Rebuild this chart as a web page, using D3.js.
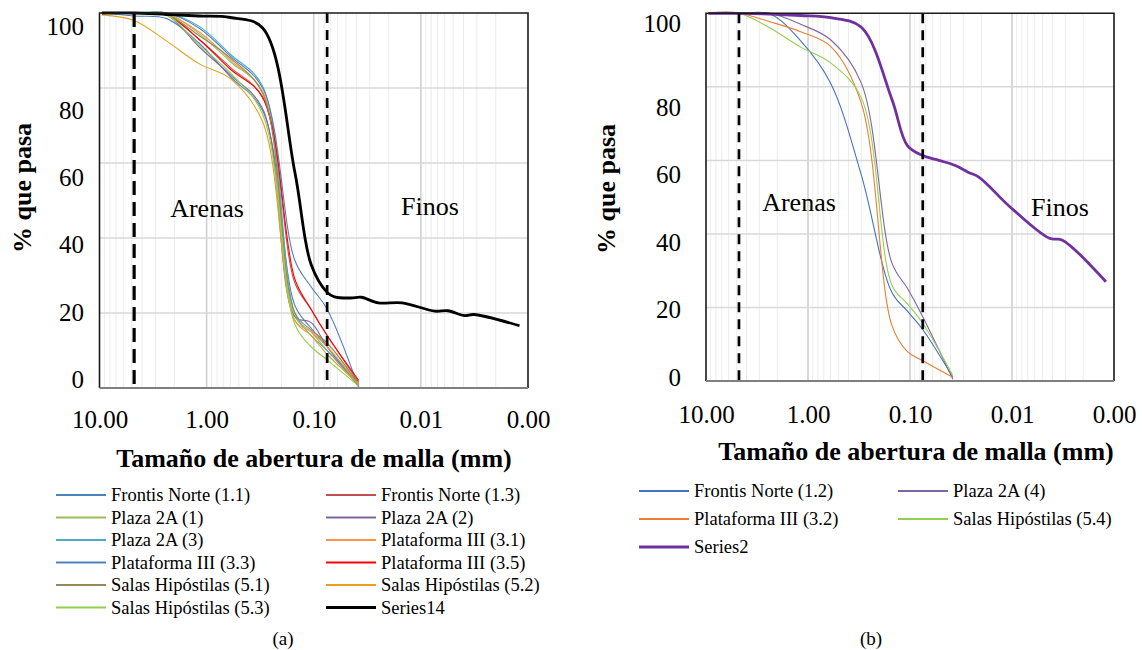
<!DOCTYPE html>
<html>
<head>
<meta charset="utf-8">
<script src="https://cdn.jsdelivr.net/npm/d3@7"></script>
<style>
  body { margin: 0; background: #fff; }
  svg { display: block; }
  svg text { font-family: "Liberation Serif", "Times New Roman", Tinos, "DejaVu Serif", serif; }
</style>
</head>
<body>
<svg id="chart" width="1142" height="650"></svg>
<script>
// sieve openings (mm) used by the thin curves
const sieveSizes = [9.5, 4.75, 2.36, 1.18, 0.6, 0.3, 0.15, 0.106, 0.075, 0.038];

// panel (a)
const namesA = [
    'Frontis Norte (1.1)', 'Frontis Norte (1.3)', 'Plaza 2A (1)', 'Plaza 2A (2)',
    'Plaza 2A (3)', 'Plataforma III (3.1)', 'Plataforma III (3.3)', 'Plataforma III (3.5)',
    'Salas Hipóstilas (5.1)', 'Salas Hipóstilas (5.2)', 'Salas Hipóstilas (5.3)'
];
const passA = [
    [100, 99.2, 98.5, 92, 83, 74, 22, 16, 11, 0.5],
    [100, 100, 99.5, 93, 85.5, 77.5, 28, 21, 14, 1.5],
    [100, 100, 100, 94.5, 87, 79, 19, 15, 10, 1],
    [100, 100, 99.5, 91, 83.5, 74.5, 19, 17.5, 11, 0.5],
    [100, 100, 100, 96.5, 89, 80.5, 20, 14, 10, 0.5],
    [100, 100, 99.5, 95, 87.5, 79, 18, 15, 11, 1],
    [100, 100, 100, 96, 88.5, 80, 34, 27, 21, 0],
    [100, 100, 99.5, 93, 85, 77.5, 29, 21, 14, 2],
    [100, 100, 99.5, 94, 88, 78.5, 20, 15.5, 12, 1],
    [99.5, 98, 92.5, 86.5, 82.5, 71, 18, 14, 9, 1],
    [100, 100, 99.5, 91.5, 84, 73, 17, 11, 7.5, 0.5]
];
const colorsA = ['#4F81BD', '#C0504D', '#9BBB59', '#8064A2', '#4BACC6', '#F79646',
    '#4F81BD', '#FF0000', '#948A54', '#E3A21A', '#92D050'];

const series14Name = 'Series14';
const series14Size = [9.5, 4.75, 2.36, 1.18, 0.6, 0.3, 0.15, 0.106, 0.075, 0.064, 0.045,
    0.036, 0.025, 0.015, 0.0074, 0.0056, 0.0039, 0.0032, 0.0012];
const series14Pass = [100, 100, 99.6, 99.2, 98.8, 96, 57.5, 33, 25.5, 24.3, 24.0,
    24.2, 22.7, 22.7, 20.5, 20.6, 19.3, 19.6, 16.6];

// panel (b)
const namesB = ['Frontis Norte (1.2)', 'Plaza 2A (4)', 'Plataforma III (3.2)', 'Salas Hipóstilas (5.4)'];
const passB = [
    [100, 100, 99.8, 92.5, 81, 56, 24, 19, 14, 1],
    [100, 100, 100, 97, 92.8, 81, 32, 25.2, 17.5, 0.5],
    [100, 100, 97.7, 95, 91, 75.5, 15, 8, 5.5, 1],
    [100, 100, 96, 90.8, 86.5, 77, 26, 21, 15.7, 1.5]
];
const colorsB = ['#4472C4', '#8064A2', '#ED7D31', '#92D050'];

const series2Name = 'Series2';
const series2Size = [9.5, 4.75, 2.36, 1.18, 0.6, 0.3, 0.15, 0.106, 0.075, 0.052, 0.036,
    0.027, 0.021, 0.0105, 0.0043, 0.0032, 0.0012];
const series2Pass = [100, 100, 99.8, 99.4, 98.8, 96.2, 76.5, 64, 61.3, 60, 58.6,
    56.8, 55.4, 47.4, 38.8, 38.3, 27];

// axes
const xTickValues = [10, 1, 0.1, 0.01, 0.001];
const xTickLabels = ['10.00', '1.00', '0.10', '0.01', '0.00'];
const yTickValues = [0, 20, 40, 60, 80, 100];
const yGridValues = [20, 40, 60, 80];
const limitSizes = [4.75, 0.075];   // No. 4 and No. 200 sieves
const zoneNames = ['Arenas', 'Finos'];
const xTitle = 'Tamaño de abertura de malla (mm)';
const yTitle = '% que pasa';

const svg = d3.select('#chart');

function buildSeries(names, pass, colors, thickName, thickSize, thickPass, thickColor) {
    const list = names.map((n, i) => ({
        name: n,
        color: colors[i],
        width: 1.1,
        points: sieveSizes.map((s, j) => [s, pass[i][j]])
    }));
    list.push({
        name: thickName,
        color: thickColor,
        width: 2.8,
        points: thickSize.map((s, j) => [s, thickPass[j]])
    });
    return list;
}

function isDecade(v) {
    return Math.abs(Math.log10(v) - Math.round(Math.log10(v))) < 1e-6;
}

function drawPanel(cfg, series) {
    const g = svg.append('g');
    const x = d3.scaleLog().domain([10, 0.001]).range([cfg.left, cfg.right]);
    const y = d3.scaleLinear().domain([0, 100]).range([cfg.bottom, cfg.top]);
    // tick labels in the picture don't sit exactly on the gridlines
    const yLab = d3.scaleLinear().domain([0, 80, 100]).range(cfg.yLabelRange);

    // vertical gridlines (log minor + decades)
    const vTicks = x.ticks().filter(v => v < 10 && v > 0.001);
    g.selectAll('.vgrid').data(vTicks).join('line')
        .attr('x1', d => x(d)).attr('x2', d => x(d))
        .attr('y1', cfg.top).attr('y2', cfg.bottom)
        .attr('stroke', d => isDecade(d) ? '#d0d0d0' : '#ececec')
        .attr('stroke-width', d => isDecade(d) ? 1.6 : 1);

    g.selectAll('.hgrid').data(yGridValues).join('line')
        .attr('x1', cfg.left).attr('x2', cfg.right)
        .attr('y1', d => y(d)).attr('y2', d => y(d))
        .attr('stroke', '#d9d9d9').attr('stroke-width', 1.5);

    const line = d3.line()
        .x(d => x(d[0])).y(d => y(d[1]))
        .curve(d3.curveCatmullRom);

    g.selectAll('.series').data(series).join('path')
        .attr('d', d => line(d.points))
        .attr('fill', 'none')
        .attr('stroke', d => d.color)
        .attr('stroke-width', d => d.width)
        .attr('stroke-linejoin', 'round');

    // sand / fines limits
    g.selectAll('.limit').data(limitSizes).join('line')
        .attr('x1', d => x(d)).attr('x2', d => x(d))
        .attr('y1', cfg.top).attr('y2', cfg.bottom)
        .attr('stroke', '#000')
        .attr('stroke-width', (d, i) => cfg.dashWidth[i])
        .attr('stroke-dasharray', (d, i) => cfg.dash[i]);

    // frame
    g.append('path')
        .attr('d', `M${cfg.left},${cfg.bottom}V${cfg.top}H${cfg.right}V${cfg.bottom}`)
        .attr('fill', 'none').attr('stroke', '#1a1a1a').attr('stroke-width', 1.6);
    g.append('line')
        .attr('x1', cfg.left).attr('x2', cfg.right)
        .attr('y1', cfg.bottom).attr('y2', cfg.bottom)
        .attr('stroke', '#7f7f7f').attr('stroke-width', 2);

    // y tick labels
    const yAxis = g.append('g')
        .attr('transform', `translate(${cfg.yLabelX},0)`)
        .call(d3.axisLeft(yLab).tickValues(yTickValues).tickSize(0).tickPadding(0));
    yAxis.attr('font-family', null);
    yAxis.select('.domain').remove();
    yAxis.selectAll('text')
        .attr('font-size', 25).attr('fill', '#000');

    // x tick labels
    const xAxis = g.append('g')
        .attr('transform', `translate(0,${cfg.xLabelY})`)
        .call(d3.axisBottom(x).tickValues(xTickValues)
            .tickFormat((d, i) => xTickLabels[i]).tickSize(0).tickPadding(0));
    xAxis.attr('font-family', null);
    xAxis.select('.domain').remove();
    xAxis.selectAll('text')
        .attr('dy', null).attr('y', 0)
        .attr('font-size', 25).attr('fill', '#000');

    g.append('text')
        .attr('x', cfg.xTitlePos[0]).attr('y', cfg.xTitlePos[1])
        .attr('text-anchor', 'middle')
        .attr('font-size', 26).attr('font-weight', 'bold')
        .text(xTitle);

    g.append('text')
        .attr('transform', `translate(${cfg.yTitlePos[0]},${cfg.yTitlePos[1]}) rotate(-90)`)
        .attr('text-anchor', 'middle').attr('dy', '0.35em')
        .attr('font-size', 26).attr('font-weight', 'bold')
        .text(yTitle);

    g.selectAll('.zone').data(zoneNames).join('text')
        .attr('x', (d, i) => cfg.zonePos[i][0]).attr('y', (d, i) => cfg.zonePos[i][1])
        .attr('text-anchor', 'middle')
        .attr('font-size', 26)
        .text(d => d);

    // legend, two columns
    const leg = g.selectAll('.leg').data(series).join('g')
        .attr('transform', (d, i) =>
            `translate(${cfg.legendX[i % 2]},${cfg.legendY + Math.floor(i / 2) * cfg.legendStep})`);
    leg.append('line')
        .attr('x1', 0).attr('x2', cfg.legendLine)
        .attr('stroke', d => d.color)
        .attr('stroke-width', d => d.width > 2 ? 3 : 2);
    leg.append('text')
        .attr('x', cfg.legendLine + 5).attr('dy', '0.33em')
        .attr('font-size', 18.5)
        .text(d => d.name);

    g.append('text')
        .attr('x', cfg.captionPos[0]).attr('y', cfg.captionPos[1])
        .attr('text-anchor', 'middle').attr('font-size', 19)
        .text(cfg.caption);
}

const seriesA = buildSeries(namesA, passA, colorsA, series14Name, series14Size, series14Pass, '#000000');
const seriesB = buildSeries(namesB, passB, colorsB, series2Name, series2Size, series2Pass, '#7030A0');

drawPanel({
    left: 99.5, right: 528, top: 13, bottom: 388,
    yLabelX: 84, yLabelRange: [379.5, 110, 26],
    xLabelY: 428,
    xTitlePos: [314, 467], yTitlePos: [22, 188],
    zonePos: [[207, 217], [430, 215]],
    dash: ['14,7', '10,7'], dashWidth: [3.2, 2.7],
    legendX: [56, 326], legendY: 495, legendStep: 22.5, legendLine: 50,
    captionPos: [283, 645], caption: '(a)'
}, seriesA);

drawPanel({
    left: 706, right: 1114, top: 13.3, bottom: 381,
    yLabelX: 681, yLabelRange: [377, 107, 23],
    xLabelY: 423,
    xTitlePos: [916, 460], yTitlePos: [606, 189],
    zonePos: [[799, 211], [1060, 216]],
    dash: ['10,7', '10,7'], dashWidth: [2.7, 2.7],
    legendX: [639, 898], legendY: 491, legendStep: 28, legendLine: 50,
    captionPos: [871, 645], caption: '(b)'
}, seriesB);
</script>
</body>
</html>
